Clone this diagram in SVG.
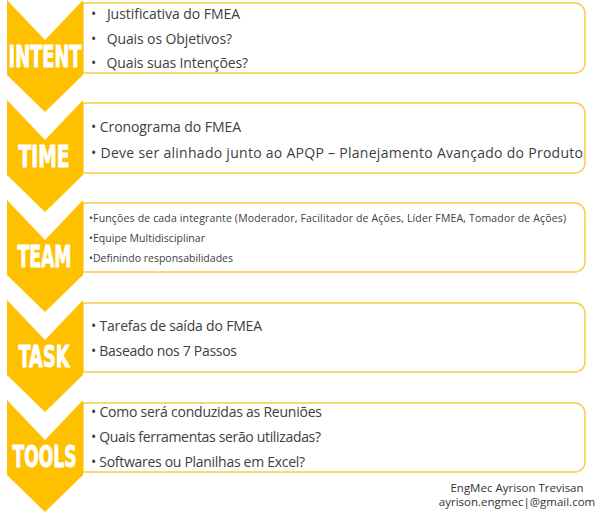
<svg xmlns="http://www.w3.org/2000/svg" width="600" height="517" viewBox="0 0 600 517">
<defs>
<style>
.box{fill:#ffffff;stroke:#F7CD45;stroke-width:1.5}
.chev{fill:#FFC000}
.lbl{font-family:"Liberation Sans Narrow","DejaVu Sans Condensed","Liberation Sans",sans-serif;font-weight:bold;font-size:30px;fill:#ffffff;stroke:#ffffff;stroke-width:0.9}
.t{font-family:"Open Sans","Noto Sans",sans-serif;font-size:14px;fill:#404040}
.s{font-family:"Open Sans","Noto Sans",sans-serif;font-size:10.5px;fill:#404040}
.f{font-family:"Open Sans","Noto Sans",sans-serif;font-size:11.5px;fill:#333333;text-anchor:middle}
</style>
<path id="chv" d="M7,0 L45,40 L83,0 L83,75 L45,112 L7,75 Z"/>
</defs>
<rect width="600" height="517" fill="#ffffff"/>

<g id="intent">
<path class="box" d="M83,3 H575 A10,10 0 0 1 585,13 V63 A10,10 0 0 1 575,73 H83 Z"/>
<use href="#chv" class="chev" x="0" y="0"/>
<text class="lbl" x="45" y="67" text-anchor="middle" textLength="73" lengthAdjust="spacingAndGlyphs">INTENT</text>
<text class="t" x="91" y="19" textLength="149">•&#160;&#160;&#160;Justificativa do FMEA</text>
<text class="t" x="91" y="44" textLength="141">•&#160;&#160;&#160;Quais os Objetivos?</text>
<text class="t" x="91" y="68" textLength="157">•&#160;&#160;&#160;Quais suas Intenções?</text>
</g>

<g id="time">
<path class="box" d="M83,103 H575 A10,10 0 0 1 585,113 V163 A10,10 0 0 1 575,173 H83 Z"/>
<use href="#chv" class="chev" x="0" y="100"/>
<text class="lbl" x="44" y="167" text-anchor="middle" textLength="51" lengthAdjust="spacingAndGlyphs">TIME</text>
<text class="t" x="91" y="132" textLength="150">•&#160;Cronograma do FMEA</text>
<text class="t" x="91" y="158" textLength="492">•&#160;Deve ser alinhado junto ao APQP – Planejamento Avançado do Produto</text>
</g>

<g id="team">
<path class="box" d="M83,203 H575 A10,10 0 0 1 585,213 V262 A10,10 0 0 1 575,272 H83 Z"/>
<use href="#chv" class="chev" x="0" y="200"/>
<text class="lbl" x="44.5" y="267" text-anchor="middle" textLength="54" lengthAdjust="spacingAndGlyphs">TEAM</text>
<text class="s" x="89" y="222" textLength="477">•Funções de cada integrante (Moderador, Facilitador de Ações, Líder FMEA, Tomador de Ações)</text>
<text class="s" x="89" y="242" textLength="116">•Equipe Multidisciplinar</text>
<text class="s" x="89" y="262" textLength="144">•Definindo responsabilidades</text>
</g>

<g id="task">
<path class="box" d="M83,303 H575 A10,10 0 0 1 585,313 V362 A10,10 0 0 1 575,372 H83 Z"/>
<use href="#chv" class="chev" x="0" y="300"/>
<text class="lbl" x="44" y="367" text-anchor="middle" textLength="51" lengthAdjust="spacingAndGlyphs">TASK</text>
<text class="t" x="91" y="331" textLength="171">•&#160;Tarefas de saída do FMEA</text>
<text class="t" x="91" y="356" textLength="146">•&#160;Baseado nos 7 Passos</text>
</g>

<g id="tools">
<path class="box" d="M83,403 H575 A10,10 0 0 1 585,413 V462 A10,10 0 0 1 575,472 H83 Z"/>
<use href="#chv" class="chev" x="0" y="400"/>
<text class="lbl" x="44.5" y="467" text-anchor="middle" textLength="64" lengthAdjust="spacingAndGlyphs">TOOLS</text>
<text class="t" x="91" y="417" textLength="231">•&#160;Como será conduzidas as Reuniões</text>
<text class="t" x="91" y="442" textLength="230">•&#160;Quais ferramentas serão utilizadas?</text>
<text class="t" x="91" y="467" textLength="214">•&#160;Softwares ou Planilhas em Excel?</text>
</g>

<g id="footer">
<text class="f" x="517" y="492">EngMec Ayrison Trevisan</text>
<text class="f" x="517" y="506">ayrison.engmec|@gmail.com</text>
</g>
<g id="connectors"/>
</svg>
